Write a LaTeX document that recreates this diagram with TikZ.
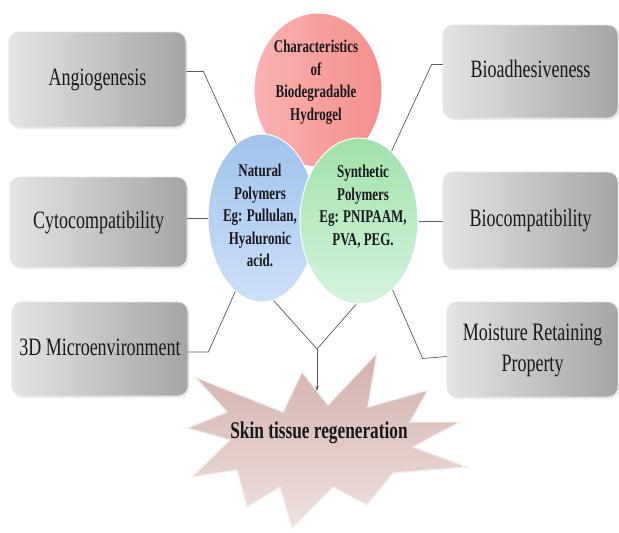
\documentclass[tikz,border=0pt]{standalone}
\usepackage{fontspec}
\setmainfont{Liberation Serif}
\usetikzlibrary{shapes.geometric,arrows.meta,calc,shadows}
\definecolor{redA}{RGB}{249,178,178}
\definecolor{redB}{RGB}{245,142,142}
\definecolor{bluA}{RGB}{160,194,238}
\definecolor{bluB}{RGB}{205,224,247}
\definecolor{grnA}{RGB}{160,226,172}
\definecolor{grnB}{RGB}{214,243,220}
\definecolor{starA}{RGB}{210,176,171}
\definecolor{starB}{RGB}{238,225,223}
\definecolor{starE}{RGB}{246,238,236}
\definecolor{lineC}{RGB}{90,90,90}
\definecolor{boxA}{RGB}{228,228,228}
\definecolor{boxB}{RGB}{165,165,165}
\definecolor{txtC}{RGB}{25,25,25}
\newcommand\sqz[1]{\scalebox{0.72}[1]{\begin{tabular}{@{}c@{}}#1\end{tabular}}}
\begin{document}
\begin{tikzpicture}[x=1pt,y=-1pt,
 boxst/.style={rounded corners=10pt, left color=boxA, right color=boxB, draw=gray!20, line width=0.8pt, inner sep=0pt, align=center, text=txtC, font=\fontsize{25}{31}\selectfont, drop shadow={opacity=0.15, shadow xshift=1.5pt, shadow yshift=-2pt}},
 circ/.style={ellipse, inner sep=0pt, draw=white, line width=1pt},
 ctext/.style={align=center, text=txtC, font=\bfseries\fontsize{18}{22.5}\selectfont, inner sep=0pt},
 conn/.style={draw=lineC, line width=0.7pt},
 starst/.style={top color=starA, bottom color=starB, draw=starE, line width=1.3pt, line join=miter}
]
\fill[white] (0,0) rectangle (619,533);
\useasboundingbox (0,0) rectangle (619,533);

% boxes
\node[boxst, minimum width=177pt, minimum height=95pt] (angio) at (97.5,79.5) {\sqz{Angiogenesis}};
\node[boxst, minimum width=177pt, minimum height=90pt] (cyto) at (98.5,222) {\sqz{Cytocompatibility}};
\node[boxst, minimum width=176pt, minimum height=94pt] (micro) at (100,349) {\sqz{3D Microenvironment}};
\node[boxst, minimum width=175pt, minimum height=93pt] (bioad) at (530.5,71.5) {\sqz{Bioadhesiveness}};
\node[boxst, minimum width=175pt, minimum height=96pt] (biocomp) at (530.5,220) {\sqz{Biocompatibility}};
\node[boxst, minimum width=171pt, minimum height=95pt] (moist) at (532.5,349.5) {\sqz{Moisture Retaining\\Property}};

% star
\path[starst] (195,377) -- (283,412) -- (302,372) -- (328,405) -- (377,353) -- (368,407) -- (428,390) -- (410,422) -- (460,422) -- (413,447) -- (467,467) -- (393,473) -- (367,505) -- (333,487) -- (292,528) -- (280,487) -- (247,507) -- (237,470) -- (192,477) -- (230,440) -- (187,428) -- (227,412) -- cycle;
\node[text=txtC, font=\bfseries\fontsize{24}{28}\selectfont, inner sep=0pt] (skin) at (319,433) {\sqz{Skin tissue regeneration}};

% circles
\node[circ, left color=redA, right color=redB, minimum width=128pt, minimum height=154pt] (red) at (318,90) {};
\node[circ, top color=bluA, bottom color=bluB, minimum width=108pt, minimum height=168pt] (nat) at (262,218) {};
\node[circ, top color=grnA, bottom color=grnB, minimum width=118pt, minimum height=166pt] (syn) at (359,221) {};

\node[ctext] (redt) at (316,82) {\sqz{Characteristics\\of\\Biodegradable\\Hydrogel}};
\node[ctext] (natt) at (260,217) {\sqz{Natural\\Polymers\\Eg: Pullulan,\\Hyaluronic\\acid.}};
\node[ctext] (synt) at (363,207) {\sqz{Synthetic\\Polymers\\Eg: PNIPAAM,\\PVA, PEG.}};

% connectors
\draw[conn] ($(angio.east)+(0,-8)$) -- ++(17,0) -- (nat.109);
\draw[conn] (nat.west -| cyto.east) -- (nat.west);
\draw[conn] ($(micro.east)+(0,3)$) -- ++(20,0) -- (nat.250);
\draw[conn] ($(bioad.west)+(0,-7)$) -- ++(-11,0) -- (syn.65);
\draw[conn] (syn.east) -- (syn.east -| biocomp.west);
\draw[conn] ($(moist.west)+(0,7)$) -- ++(-24,2) -- (syn.296);

\coordinate (v) at (317,349);
\coordinate (tip) at (317,391);
\draw[conn] (nat.278) -- (v) -- (syn.268);
\draw[conn, -{Stealth[length=5pt,width=3.5pt]}] (v) -- (tip);
\end{tikzpicture}
\end{document}
